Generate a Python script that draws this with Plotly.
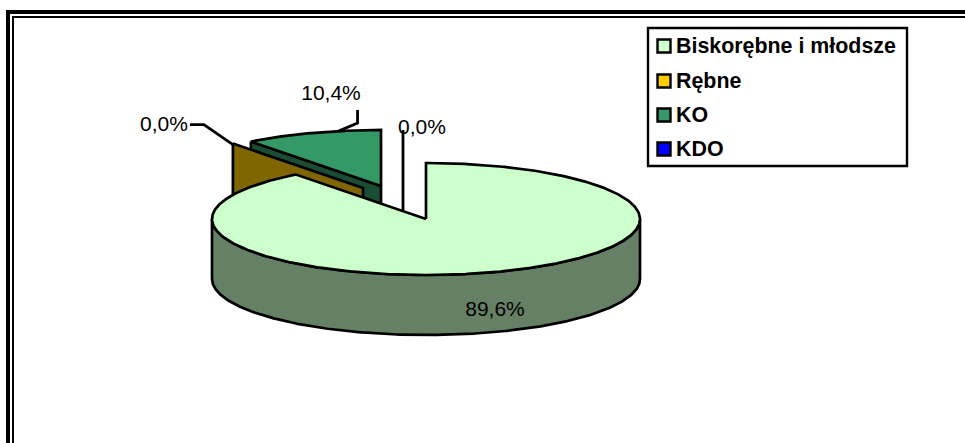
import numpy as np
import plotly.graph_objects as go

# ---- data ----
categories = ["Biskorębne i młodsze", "Rębne", "KO", "KDO"]
values = [89.6, 0.0, 10.4, 0.0]
value_labels = ["89,6%", "0,0%", "10,4%", "0,0%"]
top_colors = ["#CCFFCC", "#FFCC00", "#339966", "#0000FF"]
wall_colors = ["#668066", "#806600", "#1A4D33", "#000080"]

# ---- pie projection (pixel space) ----
W, H = 965, 443
CX, CY, RX, RY, DEPTH = 426, 219, 214, 56, 60
explode = [(0, 0), (-63, -31), (-45, -33), (-23, -7)]   # apex shift of each slice
FONT = "Liberation Sans, Arial, sans-serif"
INK = "#000000"


def ell(theta, ox, oy, dy=0):
    t = np.radians(theta)
    return CX + ox + RX * np.sin(t), CY + oy - RY * np.cos(t) + dy


def arc(a0, a1, ox, oy, dy=0):
    n = max(2, int(abs(a1 - a0) * 2))
    return ell(np.linspace(a0, a1, n), ox, oy, dy)


starts = 360 * np.concatenate([[0], np.cumsum(values)[:-1]]) / sum(values)
ends = starts + 360 * np.array(values) / sum(values)

fig = go.Figure()


def poly(xs, ys, fill):
    fig.add_trace(go.Scatter(x=list(xs), y=list(ys), mode="lines", fill="toself",
                             fillcolor=fill, line=dict(color=INK, width=2.7),
                             hoverinfo="skip", showlegend=False))


def cut_wall(i):
    """Vertical wall on the slice's first cut, from apex to rim."""
    ox, oy = explode[i]
    ex, ey = ell(starts[i], ox, oy)
    ax, ay = CX + ox, CY + oy
    poly([ex, ax, ax, ex, ex], [ey, ay, ay + DEPTH, ey + DEPTH, ey], wall_colors[i])


def top(i):
    ox, oy = explode[i]
    ax, ay = CX + ox, CY + oy
    xs, ys = arc(starts[i], ends[i], ox, oy)
    poly([ax, *xs, ax], [ay, *ys, ay], top_colors[i])


# KO slice, exploded backwards
cut_wall(2)
top(2)
# Rębne: zero-width slice, only its wall shows
cut_wall(1)
# main slice: rim wall then top
wx, wy = arc(90, 270, 0, 0)
bx, by = arc(270, 90, 0, 0, DEPTH)
poly([*wx, *bx, wx[0]], [*wy, *by, wy[0]], wall_colors[0])
top(0)


def leader(xs, ys):
    fig.add_trace(go.Scatter(x=xs, y=ys, mode="lines", line=dict(color=INK, width=2.8),
                             hoverinfo="skip", showlegend=False))


# leader lines, anchored on the slices they label
rx1, ry1 = ell(starts[1], *explode[1])
leader([rx1 - 43, rx1 - 29, rx1], [ry1 - 19, ry1 - 19, ry1 + 1])
kx, ky = ell(starts[2] + 26, *explode[2])
leader([kx + 19, kx + 19, kx], [ky - 21, ky - 8, ky])
dx, dy = CX + explode[3][0], CY + explode[3][1]
leader([dx, dx], [dy - 82, dy])

# value labels
label_pos = [(495, 311), (164, 126), (331, 95), (422, 129)]
for txt, (lx, ly) in zip(value_labels, label_pos):
    fig.add_trace(go.Scatter(x=[lx], y=[ly], mode="text", text=[txt],
                             textposition="middle center",
                             textfont=dict(family=FONT, size=21, color=INK),
                             hoverinfo="skip", showlegend=False))

# legend
LX0, LY0, LX1, LY1 = 648, 28, 907, 166
rows = [46, 81, 115, 149]
for name, col, ry in zip(categories, top_colors, rows):
    fig.add_trace(go.Scatter(x=[664], y=[ry], mode="markers",
                             marker=dict(symbol="square", size=13, color=col,
                                         line=dict(color=INK, width=2.4)),
                             hoverinfo="skip", showlegend=False))
    fig.add_trace(go.Scatter(x=[676], y=[ry + 2], mode="text", text=[name],
                             textposition="middle right",
                             textfont=dict(family=FONT, size=21.4, color=INK, weight=700),
                             hoverinfo="skip", showlegend=False))


def block(x0, y0, x1, y1):
    return dict(type="rect", xref="x", yref="y", x0=x0, y0=y0, x1=x1, y1=y1,
                fillcolor=INK, line=dict(width=0), layer="below")


shapes = [
    block(6, 10, W, 14), block(6, 10, 10, H),
    block(12, 16, W, 18), block(12, 16, 14, H),
    dict(type="rect", xref="x", yref="y", x0=LX0, y0=LY0, x1=LX1, y1=LY1,
         fillcolor="#FFFFFF", line=dict(color=INK, width=2.4), layer="below"),
]

fig.update_layout(
    width=W, height=H, margin=dict(l=0, r=0, t=0, b=0),
    paper_bgcolor="#FFFFFF", plot_bgcolor="#FFFFFF", showlegend=False, shapes=shapes,
    xaxis=dict(range=[0, W], visible=False, fixedrange=True),
    yaxis=dict(range=[H, 0], visible=False, fixedrange=True),
)
fig.write_html("out.html", config=dict(displayModeBar=False),
               post_script="document.body.style.margin='0';document.body.style.overflow='hidden';")
